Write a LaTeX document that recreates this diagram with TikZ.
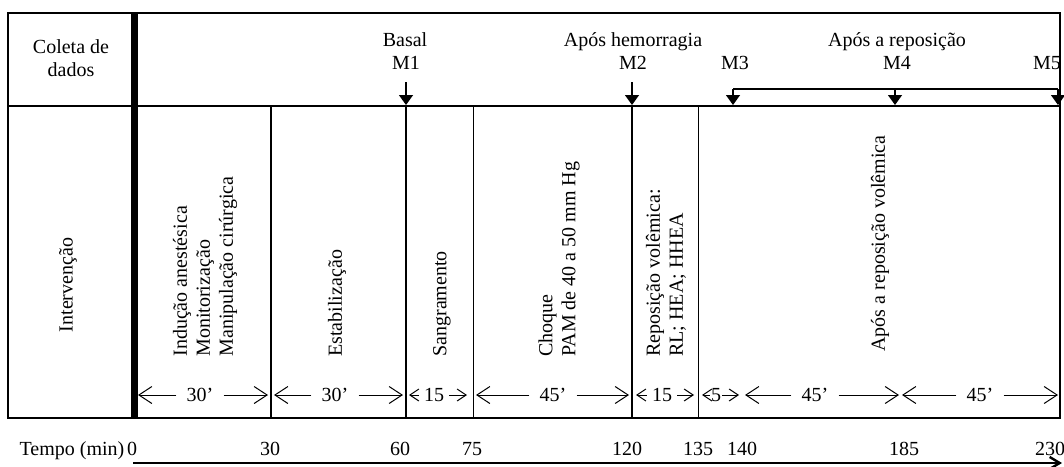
\documentclass[tikz,border=0pt]{standalone}
\usepackage{fontspec}
\setmainfont{Liberation Serif}
\usetikzlibrary{arrows.meta}

\begin{document}
\begin{tikzpicture}[
  x=0.5pt, y=-0.5pt,
  font=\fontsize{10}{11.5}\selectfont,
  frame/.style={line width=1.1pt},
  rule/.style={line width=1pt},
  thinrule/.style={line width=0.5pt},
  txt/.style={inner sep=0pt, align=center},
  vtxt/.style={rotate=90, anchor=west, inner sep=0pt, align=left},
  dimlbl/.style={inner xsep=5pt, inner ysep=0pt},
  dim/.style={-{Straight Barb[length=6.5pt,width=8.5pt]}, line width=0.5pt},
  dimsmall/.style={-{Straight Barb[length=4.5pt,width=6pt]}, line width=0.5pt},
  tic/.style={-{Triangle[length=5pt,width=7pt]}, line width=0.7pt},
  axis/.style={-{Straight Barb[length=5pt,width=6pt]}, line width=1.2pt}
]
\useasboundingbox (0,0) rectangle (1064,466);

% table
\draw[frame] (8,13) rectangle (1060,418);
\draw[frame] (8,106) -- (1060,106);
\draw[line width=3.5pt] (134.5,13) -- (134.5,418);
\draw[rule] (271,106) -- (271,418);
\draw[rule] (406,106) -- (406,418);
\draw[thinrule] (473,106) -- (473,418);
\draw[rule] (632,106) -- (632,418);
\draw[thinrule] (698,106) -- (698,418);

% row headers
\node[txt] (coleta) at (71,58) {Coleta de\\dados};
\node[rotate=90, inner sep=0pt] (interv) at (68,285) {Intervenção};

% data collection moments
\node[txt, anchor=base] (basal) at (405,46) {Basal};
\node[txt, anchor=base] (m1) at (406,69) {M1};
\node[txt, anchor=base] (hemo) at (633,46) {Após hemorragia};
\node[txt, anchor=base] (m2) at (633,69) {M2};
\node[txt, anchor=base] (repo) at (897,46) {Após a reposição};
\node[txt, anchor=base] (m3) at (735,69) {M3};
\node[txt, anchor=base] (m4) at (897,69) {M4};
\node[txt, anchor=base] (m5) at (1047,69) {M5};

\coordinate (m1a) at (406,82);  \coordinate (m1b) at (406,105);
\coordinate (m2a) at (632,82);  \coordinate (m2b) at (632,105);
\coordinate (m3a) at (733,89);  \coordinate (m3b) at (733,105);
\coordinate (m4a) at (895,89);  \coordinate (m4b) at (895,105);
\coordinate (m5a) at (1058,89); \coordinate (m5b) at (1058,105);
\draw[tic] (m1a) -- (m1b);
\draw[tic] (m2a) -- (m2b);
\draw[line width=0.7pt] (m3a) -- (m5a);
\draw[tic] (m3a) -- (m3b);
\draw[tic] (m4a) -- (m4b);
\draw[tic] (m5a) -- (m5b);

% interventions
\node[vtxt] (inducao) at (205,357) {Indução anestésica\\Monitorização\\Manipulação cirúrgica};
\node[vtxt] (estab) at (337,357) {Estabilização};
\node[vtxt] (sangr) at (442,357) {Sangramento};
\node[vtxt] (choque) at (559,357) {Choque\\PAM de 40 a 50 mm Hg};
\node[vtxt] (reposvol) at (666,357) {Reposição volêmica:\\RL; HEA; HHEA};
\node[vtxt] (apos) at (880,352) {Após a reposição volêmica};

% durations
\node[dimlbl] (d1) at (200,395) {30’};
\node[dimlbl] (d2) at (335,395) {30’};
\node[dimlbl, inner xsep=2.5pt] (d3) at (434,395) {15};
\node[dimlbl] (d4) at (553,395) {45’};
\node[dimlbl, inner xsep=2.5pt] (d5) at (662,395) {15};
\node[dimlbl, inner xsep=0.5pt] (d6) at (716,395) {5};
\node[dimlbl] (d7) at (815,395) {45’};
\node[dimlbl] (d8) at (980,395) {45’};

\coordinate (d1l) at (138,395);  \coordinate (d1r) at (268,395);
\coordinate (d2l) at (274,395);  \coordinate (d2r) at (403,395);
\coordinate (d3l) at (409,395);  \coordinate (d3r) at (467,395);
\coordinate (d4l) at (476,395);  \coordinate (d4r) at (629,395);
\coordinate (d5l) at (636,395);  \coordinate (d5r) at (694,395);
\coordinate (d6l) at (702,395);  \coordinate (d6r) at (739,395);
\coordinate (d7l) at (745,395);  \coordinate (d7r) at (899,395);
\coordinate (d8l) at (902,395);  \coordinate (d8r) at (1058,395);

\draw[dim] (d1) -- (d1l); \draw[dim] (d1) -- (d1r);
\draw[dim] (d2) -- (d2l); \draw[dim] (d2) -- (d2r);
\draw[dimsmall] (d3) -- (d3l); \draw[dimsmall] (d3) -- (d3r);
\draw[dim] (d4) -- (d4l); \draw[dim] (d4) -- (d4r);
\draw[dimsmall] (d5) -- (d5l); \draw[dimsmall] (d5) -- (d5r);
\draw[dimsmall] (d6) -- (d6l); \draw[dimsmall] (d6) -- (d6r);
\draw[dim] (d7) -- (d7l); \draw[dim] (d7) -- (d7r);
\draw[dim] (d8) -- (d8l); \draw[dim] (d8) -- (d8r);

% time axis
\node[txt, anchor=base] (tempo) at (72,455) {Tempo (min)};
\node[txt, anchor=base] (t0) at (132,455) {0};
\node[txt, anchor=base] (t30) at (270,455) {30};
\node[txt, anchor=base] (t60) at (400,455) {60};
\node[txt, anchor=base] (t75) at (472,455) {75};
\node[txt, anchor=base] (t120) at (627,455) {120};
\node[txt, anchor=base] (t135) at (698,455) {135};
\node[txt, anchor=base] (t140) at (742,455) {140};
\node[txt, anchor=base] (t185) at (904,455) {185};
\node[txt, anchor=base] (t230) at (1050,455) {230};

\coordinate (ax0) at (133,463);
\coordinate (ax1) at (1062,463);
\draw[axis] (ax0) -- (ax1);

\end{tikzpicture}
\end{document}
